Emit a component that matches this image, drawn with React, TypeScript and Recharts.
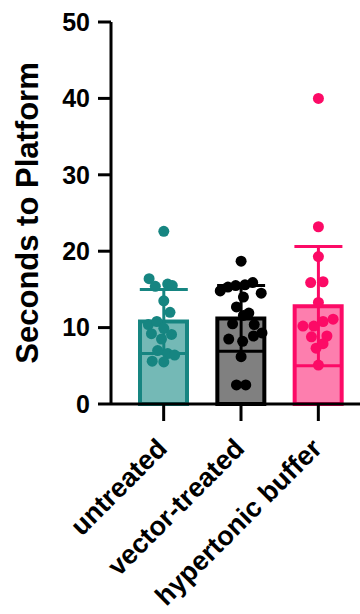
import React from "react";
import {
  ComposedChart,
  Bar,
  Cell,
  Scatter,
  ErrorBar,
  XAxis,
  YAxis,
  Label,
} from "recharts";

const FONT = "'Liberation Sans', Arial, Helvetica, sans-serif";

const categories = ["untreated", "vector-treated", "hypertonic buffer"];
const means = [10.8, 11.2, 12.8];
const sds = [4.2, 4.3, 7.8];
const edgeColors = ["#168581", "#000000", "#fc0a66"];
const fillColors = ["#74b9b6", "#808080", "#fd7eae"];
const yTicks = [0, 10, 20, 30, 40, 50];

// individual animals: value + small horizontal jitter around the group index
const untreatedVals = [22.6, 16.4, 15.4, 15.7, 15.5, 13.5, 12.0, 10.4, 10.8, 9.9, 9.2, 8.5, 9.1, 7.0, 6.6, 5.6, 5.5, 6.4];
const untreatedJitter = [0, -0.19, -0.11, 0.05, 0.11, 0, 0.08, -0.2, -0.09, 0, -0.16, -0.03, 0.1, -0.08, 0.05, -0.15, 0, 0.14];
const vectorVals = [18.7, 14.8, 15.3, 15.5, 15.6, 15.9, 14.5, 14.0, 12.7, 11.9, 11.6, 10.5, 10.4, 9.3, 8.5, 8.2, 8.9, 6.2, 2.5, 2.5];
const vectorJitter = [0, -0.27, -0.17, -0.07, 0.05, 0.15, 0.26, 0.03, -0.06, 0.1, 0.03, -0.11, 0.17, 0.27, -0.16, 0.02, 0.16, 0, -0.06, 0.06];
const hyperVals = [40.0, 23.2, 19.3, 15.9, 16.0, 13.3, 10.2, 10.2, 10.8, 11.1, 8.8, 8.9, 7.3, 7.9, 5.1];
const hyperJitter = [0, 0, 0, -0.1, 0.06, 0, -0.2, -0.06, 0.06, 0.19, -0.09, 0.11, -0.03, 0.06, 0];

const groups = [
  { vals: untreatedVals, jitter: untreatedJitter },
  { vals: vectorVals, jitter: vectorJitter },
  { vals: hyperVals, jitter: hyperJitter },
];

const barData = categories.map((name, i) => ({ x: i, name, mean: means[i], sd: sds[i] }));

function CategoryTick(props: any) {
  const { x, y, payload } = props;
  const tx = x + 5;
  const ty = y + 27;
  return (
    <text
      x={tx}
      y={ty}
      transform={`rotate(-45, ${tx}, ${ty})`}
      textAnchor="end"
      fontFamily={FONT}
      fontWeight={700}
      fontSize={27}
      fill="#000"
    >
      {payload.value}
    </text>
  );
}

function YTitle(props: any) {
  const vb = props.viewBox;
  const cx = vb.x + 38;
  const cy = vb.y + vb.height / 2;
  return (
    <text
      x={cx}
      y={cy}
      transform={`rotate(-90, ${cx}, ${cy})`}
      textAnchor="middle"
      fontFamily={FONT}
      fontWeight={700}
      fontSize={31}
      fill="#000"
    >
      Seconds to Platform
    </text>
  );
}

const dot = (color: string) => (p: any) => <circle cx={p.cx} cy={p.cy} r={5.5} fill={color} />;

export default function App() {
  return (
    <div style={{ position: "absolute", left: 0, top: 0, background: "#fff" }}>
      <ComposedChart
        width={360}
        height={614}
        data={barData}
        margin={{ top: 22, right: 0, bottom: 0, left: 0 }}
      >
        <XAxis
          xAxisId="cat"
          dataKey="name"
          type="category"
          padding={{ left: 14, right: 3 }}
          interval={0}
          height={210}
          tickSize={17}
          tickMargin={2}
          axisLine={{ stroke: "#000", strokeWidth: 3 }}
          tickLine={{ stroke: "#000", strokeWidth: 3 }}
          tick={<CategoryTick />}
        />
        <XAxis
          xAxisId="num"
          dataKey="x"
          type="number"
          domain={[-0.683, 2.538]}
          allowDataOverflow
          hide
          height={210}
        />
        <YAxis
          type="number"
          domain={[0, 50]}
          ticks={yTicks}
          interval={0}
          width={111}
          tickSize={13}
          tickMargin={8}
          axisLine={{ stroke: "#000", strokeWidth: 3 }}
          tickLine={{ stroke: "#000", strokeWidth: 3 }}
          tick={{ fill: "#000", fontSize: 25, fontWeight: 700, fontFamily: FONT }}
        >
          <Label content={<YTitle />} />
        </YAxis>
        <Bar xAxisId="cat" dataKey="mean" barSize={47} strokeWidth={4} isAnimationActive={false}>
          {barData.map((d, i) => (
            <Cell key={d.name} fill={fillColors[i]} stroke={edgeColors[i]} />
          ))}
        </Bar>
        {barData.map((d, i) => (
          <Scatter
            key={"err-" + d.name}
            xAxisId="num"
            data={[d]}
            dataKey="mean"
            shape={() => <g />}
            isAnimationActive={false}
          >
            <ErrorBar dataKey="sd" direction="y" width={24} strokeWidth={3} stroke={edgeColors[i]} />
          </Scatter>
        ))}
        {groups.map((g, i) => (
          <Scatter
            key={"pts-" + i}
            xAxisId="num"
            data={g.vals.map((v, j) => ({ x: i + g.jitter[j], y: v }))}
            dataKey="y"
            shape={dot(edgeColors[i])}
            isAnimationActive={false}
          />
        ))}
      </ComposedChart>
    </div>
  );
}
